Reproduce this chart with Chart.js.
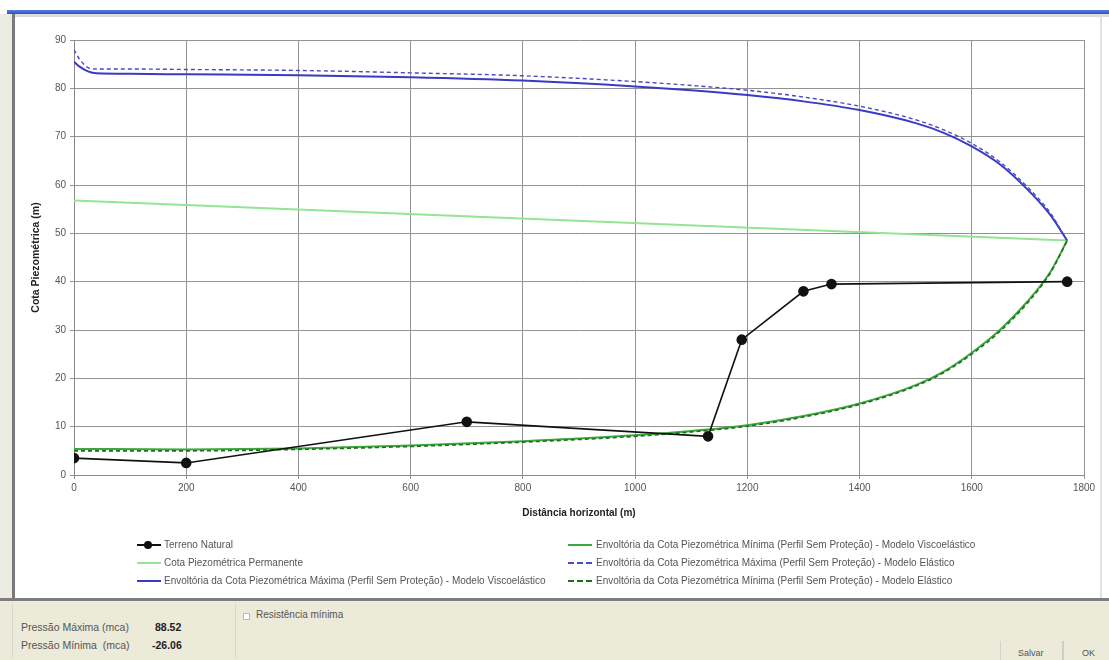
<!DOCTYPE html>
<html>
<head>
<meta charset="utf-8">
<script src="https://cdn.jsdelivr.net/npm/chart.js@4.4.1/dist/chart.umd.min.js"></script>
<style>
  body { margin: 0; width: 1109px; height: 660px; overflow: hidden; background: #fff; font-family: "Liberation Sans", Arial, sans-serif; position: relative; }
  .abs { position: absolute; }
  #topbar { left: 7px; top: 10px; width: 1102px; height: 4px; background: linear-gradient(#5a7fe0, #2b4fc8); }
  #topline { left: 7px; top: 14px; width: 1102px; height: 3px; background: #dcdcdc; }
  #leftedge { left: 0; top: 14px; width: 12px; height: 586px; background: #ecebe2; }
  #leftline { left: 12px; top: 14px; width: 3px; height: 586px; background: #7a7a7a; }
  #rightline { left: 1100px; top: 17px; width: 2px; height: 583px; background: #e2e2e2; }
  #chart { left: 0; top: 0; }
  .leg { font-size: 10px; color: #555; white-space: nowrap; }
  .mk { position: absolute; width: 24px; top: 50%; }
  #panel { left: 0; top: 598px; width: 1109px; height: 62px; background: #ecead9; border-top: 3px solid #7e7e7e; }
  .ptxt { font-size: 10.5px; color: #555; }
</style>
</head>
<body>
<div class="abs" id="topbar"></div>
<div class="abs" id="topline"></div>
<div class="abs" id="leftedge"></div>
<div class="abs" id="leftline"></div>
<div class="abs" id="rightline"></div>
<canvas class="abs" id="chart" width="1109" height="540"></canvas>
<div id="legend"></div>
<div class="abs" id="panel">
  <div class="abs" style="left:12px;top:2px;width:222px;height:56px;border-right:1px solid #d8d6c8;border-left:1px solid #d8d6c8;"></div>
  <div class="abs ptxt" style="left:21px;top:20px;">Pressão Máxima (mca)</div>
  <div class="abs ptxt" style="left:155px;top:20px;"><b style="color:#222">88.52</b></div>
  <div class="abs ptxt" style="left:21px;top:38px;">Pressão Mínima&nbsp;&nbsp;(mca)</div>
  <div class="abs ptxt" style="left:152px;top:38px;"><b style="color:#222">-26.06</b></div>
  <div class="abs" style="left:243px;top:12px;width:5px;height:5px;border:1px solid #bbb;background:#fff;"></div>
  <div class="abs ptxt" style="left:256px;top:8px;font-size:10px;">Resistência mínima</div>
  <div class="abs" style="left:1000px;top:40px;width:60px;height:24px;border-left:1px solid #d6d4c6;"></div>
  <div class="abs ptxt" style="left:1018px;top:47px;font-size:9px;">Salvar</div>
  <div class="abs" style="left:1062px;top:40px;width:2px;height:24px;background:#d0cec0;"></div>
  <div class="abs ptxt" style="left:1082px;top:47px;font-size:9px;">OK</div>
</div>
<script>
'use strict';

/** Data */
let tickY = [0, 10, 20, 30, 40, 50, 60, 70, 80, 90];
let tickX = [0, 200, 400, 600, 800, 1000, 1200, 1400, 1600, 1800];

let terrenoX = [0, 200, 700, 1130, 1190, 1300, 1350, 1770];
let terrenoY = [3.5, 2.5, 11, 8, 28, 38, 39.5, 40];

let permX = [0, 1770];
let permY = [56.8, 48.5];

let envX = [0, 10, 25, 40, 100, 200, 400, 600, 800, 1000, 1100, 1200, 1300, 1400, 1500, 1550, 1600, 1650, 1700, 1740, 1770];
let maxViscoY = [85.5, 84.5, 83.5, 83.1, 83.0, 82.9, 82.7, 82.3, 81.6, 80.4, 79.6, 78.6, 77.3, 75.5, 72.8, 70.8, 68.0, 64.3, 59.0, 53.8, 48.5];
let maxElastY = [88.0, 86.0, 84.3, 84.0, 84.0, 83.9, 83.7, 83.2, 82.6, 81.4, 80.6, 79.6, 78.2, 76.3, 73.5, 71.4, 68.6, 64.8, 59.5, 54.2, 48.5];

let minX = [0, 200, 400, 600, 800, 1000, 1100, 1200, 1300, 1400, 1500, 1550, 1600, 1650, 1700, 1740, 1770];
let minViscoY = [5.4, 5.3, 5.5, 6.1, 7.0, 8.2, 9.1, 10.3, 12.2, 14.8, 18.6, 21.4, 25.3, 30.0, 36.0, 42.0, 48.5];
let minElastY = [5.0, 5.0, 5.3, 5.9, 6.8, 8.0, 8.9, 10.1, 12.0, 14.6, 18.4, 21.2, 25.0, 29.7, 35.7, 41.8, 48.5];

let seriesNames = [
  'Terreno Natural',
  'Cota Piezométrica Permanente',
  'Envoltória da Cota Piezométrica Máxima (Perfil Sem Proteção) - Modelo Viscoelástico',
  'Envoltória da Cota Piezométrica Mínima (Perfil Sem Proteção) - Modelo Viscoelástico',
  'Envoltória da Cota Piezométrica Máxima (Perfil Sem Proteção) - Modelo Elástico',
  'Envoltória da Cota Piezométrica Mínima (Perfil Sem Proteção) - Modelo Elástico'
];
let seriesColors = ['#111111', '#93e493', '#3a3ac4', '#3aa83a', '#4848c8', '#1f6f1f'];
let seriesDash = [[], [], [], [], [4, 3], [4, 3]];

// Helpers
function pairs(xs, ys) {
  let out = [];
  for (let i = 0; i < xs.length; i++) {
    out.push({ x: xs[i], y: ys[i] });
  }
  return out;
}

function lineSet(idx, xs, ys, width, tension) {
  return {
    label: seriesNames[idx],
    data: pairs(xs, ys),
    showLine: true,
    borderColor: seriesColors[idx],
    backgroundColor: seriesColors[idx],
    borderWidth: width,
    borderDash: seriesDash[idx],
    pointRadius: 0,
    tension: tension,
    cubicInterpolationMode: 'monotone'
  };
}

// Legend (two columns, built in HTML)
function renderLegend() {
  let legend = document.getElementById('legend');
  let cols = [[0, 1, 2], [3, 4, 5]];
  let colLeft = [137, 568];
  let rowTop = [539, 557, 575];
  for (let c = 0; c < cols.length; c++) {
    for (let r = 0; r < cols[c].length; r++) {
      let idx = cols[c][r];
      let row = document.createElement('div');
      row.className = 'abs leg';
      row.style.left = colLeft[c] + 'px';
      row.style.top = rowTop[r] + 'px';
      row.style.height = '12px';
      row.style.lineHeight = '12px';
      row.style.paddingLeft = (c === 0 ? 27 : 28) + 'px';
      let mk = document.createElement('div');
      mk.className = 'mk';
      mk.style.left = '0px';
      mk.style.borderTop = (seriesDash[idx].length ? '2px dashed ' : '2px solid ') + seriesColors[idx];
      mk.style.marginTop = '-1px';
      row.appendChild(mk);
      if (idx === 0) {
        let dot = document.createElement('div');
        dot.style.cssText = 'position:absolute;left:7px;top:2px;width:8px;height:8px;border-radius:50%;background:#111;';
        row.appendChild(dot);
      }
      let txt = document.createElement('span');
      txt.textContent = seriesNames[idx];
      row.appendChild(txt);
      legend.appendChild(row);
    }
  }
}

function plainLabel(value) {
  return String(value);
}

// Chart
let ctx = document.getElementById('chart');

let datasets = [
  {
    label: seriesNames[0],
    data: pairs(terrenoX, terrenoY),
    showLine: true,
    borderColor: seriesColors[0],
    backgroundColor: seriesColors[0],
    borderWidth: 1.6,
    pointRadius: 4.5,
    pointHoverRadius: 4.5,
    tension: 0
  },
  lineSet(5, minX, minElastY, 1.6, 0.3),
  lineSet(3, minX, minViscoY, 2, 0.3),
  lineSet(4, envX, maxElastY, 1.4, 0.3),
  lineSet(2, envX, maxViscoY, 2, 0.3),
  lineSet(1, permX, permY, 2, 0)
];

let chartObj = {
  type: 'scatter',
  data: { datasets: datasets },
  options: {
    responsive: false,
    animation: false,
    layout: { padding: { top: 40, right: 25, left: 0, bottom: 0 } },
    plugins: {
      legend: { display: false },
      tooltip: { enabled: false }
    },
    scales: {
      x: {
        type: 'linear',
        min: tickX[0],
        max: tickX[tickX.length - 1],
        afterBuildTicks: function(scale) {
          scale.ticks = tickX.map(function(v) { return { value: v }; });
        },
        afterFit: function(scale) { scale.height = 65; },
        grid: { color: '#929292', lineWidth: 1, tickLength: 4, tickColor: '#929292' },
        border: { color: '#8a8a8a', width: 1 },
        ticks: { color: '#555', padding: 3, font: { family: 'Liberation Sans', size: 10 }, maxRotation: 0, callback: plainLabel },
        title: {
          display: true,
          text: 'Distância horizontal (m)',
          color: '#222',
          font: { family: 'Liberation Sans', size: 10, weight: 'bold' },
          padding: { top: 0, bottom: 21 }
        }
      },
      y: {
        type: 'linear',
        min: tickY[0],
        max: tickY[tickY.length - 1],
        afterBuildTicks: function(scale) {
          scale.ticks = tickY.map(function(v) { return { value: v }; });
        },
        afterFit: function(scale) { scale.width = 74; },
        grid: { color: '#929292', lineWidth: 1, tickLength: 4, tickColor: '#929292' },
        border: { color: '#8a8a8a', width: 1 },
        ticks: { color: '#555', padding: 4, font: { family: 'Liberation Sans', size: 10 }, callback: plainLabel },
        title: {
          display: true,
          text: 'Cota Piezométrica (m)',
          color: '#222',
          font: { family: 'Liberation Sans', size: 10.5, weight: 'bold' },
          padding: { top: 30, bottom: 0 }
        }
      }
    }
  }
};

new Chart(ctx, chartObj);
renderLegend();
</script>
</body>
</html>
